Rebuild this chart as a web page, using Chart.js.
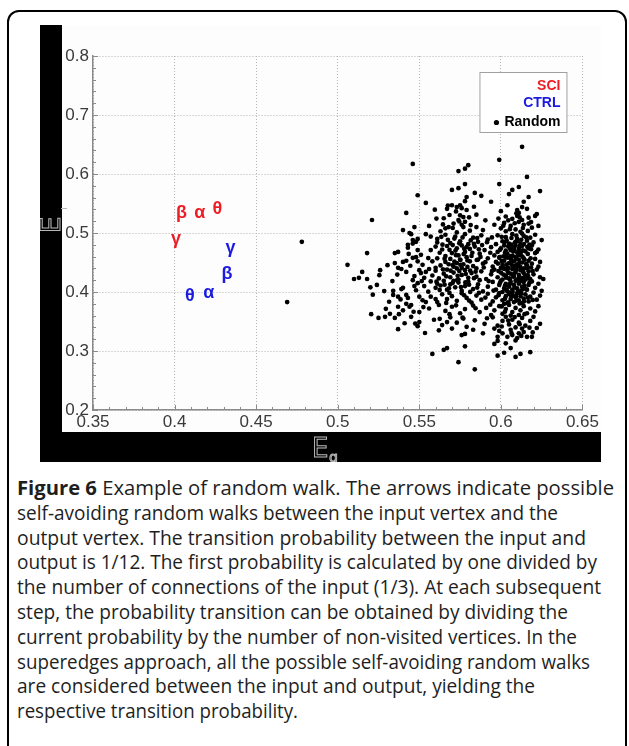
<!DOCTYPE html>
<html><head><meta charset="utf-8">
<script src="https://cdn.jsdelivr.net/npm/chart.js@4.4.1/dist/chart.umd.min.js"></script>
<style>
html,body{margin:0;padding:0;background:#fff;width:629px;height:746px;overflow:hidden;}
#frame{position:absolute;left:7px;top:10px;width:620px;height:760px;border:2px solid #000;border-radius:12px;box-sizing:border-box;}
#wrap{position:absolute;left:40px;top:25px;width:561px;height:437px;}
#cap{position:absolute;left:17px;top:476px;width:610px;font-family:"Open Sans",sans-serif;font-size:19.5px;line-height:24.8px;color:#1e1e1e;white-space:nowrap;}
#cap div{height:24.8px;}
#cap span{display:inline-block;transform-origin:0 50%;}
#cap b{font-weight:700;}
</style></head><body>
<div id="frame"></div>
<div id="wrap"><canvas id="c" width="561" height="437"></canvas></div>
<div id="cap">
<div><span data-w="597"><b>Figure 6</b> Example of random walk. The arrows indicate possible</span></div>
<div><span data-w="541">self-avoiding random walks between the input vertex and the</span></div>
<div><span data-w="569">output vertex. The transition probability between the input and</span></div>
<div><span data-w="580">output is 1/12. The first probability is calculated by one divided by</span></div>
<div><span data-w="584">the number of connections of the input (1/3). At each subsequent</span></div>
<div><span data-w="551">step, the probability transition can be obtained by dividing the</span></div>
<div><span data-w="560">current probability by the number of non-visited vertices. In the</span></div>
<div><span data-w="573">superedges approach, all the possible self-avoiding random walks</span></div>
<div><span data-w="518">are considered between the input and output, yielding the</span></div>
<div><span data-w="281">respective transition probability.</span></div>
</div>
<script>
const xTickLabels = ['0.35','0.4','0.45','0.5','0.55','0.6','0.65'];
const yTickLabels = ['0.2','0.3','0.4','0.5','0.6','0.7','0.8'];
const seriesNames = ['SCI','CTRL','Random'];
const greekLetters = ['β','α','θ','γ'];
const sciX = [0.4043,0.4155,0.4263,0.4008];
const sciY = [0.5334,0.5339,0.5402,0.4893];
const ctrlX = [0.4322,0.4210,0.4094,0.4343];
const ctrlY = [0.4300,0.3978,0.3937,0.4741];
const randomPoints = [
[0.613,0.646],[0.599,0.624],[0.546,0.617],[0.580,0.615],
[0.578,0.609],[0.574,0.605],
[0.616,0.595],[0.599,0.583],[0.578,0.583],[0.611,0.578],[0.574,0.576],
[0.570,0.573],[0.607,0.573],[0.624,0.571],[0.605,0.566],[0.584,0.568],[0.588,0.563],[0.579,0.561],[0.617,0.561],[0.549,0.564],
[0.578,0.554],[0.575,0.547],[0.614,0.553],[0.613,0.544],[0.570,0.547],[0.594,0.553],[0.604,0.547],[0.573,0.544],[0.576,0.542],[0.554,0.551],[0.567,0.541],[0.616,0.541],
[0.600,0.537],[0.579,0.539],[0.610,0.539],[0.611,0.534],[0.542,0.534],[0.610,0.529],[0.607,0.524],[0.613,0.522],[0.621,0.529],[0.622,0.532],[0.575,0.530],[0.577,0.527],[0.574,0.522],[0.521,0.522],[0.603,0.528],[0.617,0.526],[0.565,0.525],[0.585,0.531],
[0.611,0.519],[0.578,0.519],[0.576,0.514],[0.577,0.510],[0.566,0.508],[0.568,0.510],[0.585,0.510],[0.596,0.514],[0.540,0.505],[0.547,0.510],[0.544,0.500],[0.602,0.517],[0.606,0.512],[0.609,0.506],[0.614,0.514],[0.619,0.509],[0.603,0.503],[0.612,0.502],[0.617,0.516],[0.600,0.508],[0.571,0.516],[0.581,0.504],[0.573,0.501],[0.589,0.505],[0.563,0.503],[0.623,0.512],[0.556,0.512],
[0.545,0.498],[0.554,0.498],[0.561,0.490],[0.549,0.490],[0.546,0.488],[0.548,0.485],[0.543,0.480],[0.546,0.482],[0.566,0.497],[0.572,0.494],[0.578,0.498],[0.583,0.492],[0.588,0.496],[0.575,0.486],[0.569,0.483],[0.580,0.481],[0.586,0.485],[0.592,0.489],[0.598,0.496],[0.603,0.493],[0.607,0.498],[0.610,0.490],[0.614,0.495],[0.618,0.492],[0.621,0.497],[0.601,0.486],[0.605,0.482],[0.609,0.485],[0.612,0.481],[0.616,0.487],[0.620,0.484],[0.597,0.481],[0.561,0.484],[0.557,0.494],[0.625,0.488],[0.613,0.499],[0.478,0.485],
[0.518,0.466],[0.535,0.466],[0.537,0.468],[0.543,0.475],[0.549,0.471],[0.551,0.463],[0.557,0.471],[0.560,0.477],[0.564,0.472],[0.567,0.478],[0.570,0.466],[0.573,0.474],[0.576,0.479],[0.578,0.468],[0.581,0.473],[0.584,0.477],[0.587,0.465],[0.590,0.471],[0.594,0.476],[0.598,0.468],[0.600,0.474],[0.602,0.479],[0.604,0.465],[0.606,0.471],[0.608,0.476],[0.610,0.467],[0.611,0.473],[0.613,0.478],[0.615,0.469],[0.617,0.474],[0.619,0.479],[0.621,0.466],[0.623,0.472],[0.606,0.461],[0.612,0.463],[0.574,0.462],[0.566,0.461],[0.582,0.461],[0.596,0.462],[0.603,0.470],[0.609,0.479],[0.579,0.476],[0.622,0.468],
[0.506,0.446],[0.535,0.449],[0.540,0.451],[0.542,0.453],[0.546,0.458],[0.548,0.459],[0.558,0.452],[0.561,0.457],[0.563,0.445],[0.566,0.451],[0.569,0.456],[0.571,0.443],[0.573,0.449],[0.575,0.455],[0.577,0.447],[0.579,0.459],[0.581,0.452],[0.583,0.444],[0.586,0.455],[0.589,0.448],[0.592,0.457],[0.595,0.443],[0.597,0.451],[0.599,0.458],[0.601,0.446],[0.602,0.453],[0.604,0.441],[0.605,0.449],[0.606,0.457],[0.607,0.444],[0.608,0.452],[0.609,0.459],[0.610,0.447],[0.611,0.455],[0.612,0.442],[0.613,0.450],[0.614,0.457],[0.616,0.445],[0.617,0.453],[0.619,0.448],[0.621,0.456],[0.623,0.443],[0.600,0.441],[0.603,0.459],[0.576,0.441],[0.568,0.447],[0.585,0.440],[0.560,0.441],[0.552,0.446],[0.549,0.452],[0.624,0.451],
[0.515,0.434],[0.526,0.437],[0.537,0.441],[0.539,0.439],[0.542,0.434],[0.550,0.437],[0.551,0.432],[0.554,0.434],[0.556,0.439],[0.547,0.427],[0.558,0.428],[0.560,0.436],[0.562,0.423],[0.565,0.431],[0.567,0.438],[0.569,0.425],[0.571,0.433],[0.574,0.421],[0.576,0.429],[0.578,0.437],[0.580,0.424],[0.582,0.432],[0.585,0.426],[0.588,0.435],[0.591,0.422],[0.594,0.430],[0.596,0.438],[0.598,0.425],[0.600,0.433],[0.601,0.421],[0.603,0.428],[0.604,0.436],[0.605,0.423],[0.606,0.431],[0.607,0.439],[0.608,0.426],[0.609,0.434],[0.610,0.421],[0.611,0.429],[0.612,0.437],[0.613,0.424],[0.614,0.432],[0.615,0.427],[0.617,0.435],[0.618,0.422],[0.620,0.430],[0.622,0.438],[0.624,0.425],[0.602,0.439],[0.609,0.440],[0.616,0.440],[0.573,0.440],[0.587,0.420],[0.626,0.422],
[0.510,0.422],[0.513,0.424],[0.518,0.422],[0.524,0.412],[0.520,0.408],[0.539,0.405],[0.540,0.407],[0.548,0.403],[0.547,0.410],[0.549,0.415],[0.546,0.420],[0.553,0.410],[0.553,0.424],[0.560,0.407],[0.561,0.414],[0.534,0.402],[0.557,0.418],[0.563,0.411],[0.565,0.419],[0.567,0.404],[0.569,0.413],[0.572,0.408],[0.574,0.416],[0.576,0.402],[0.578,0.410],[0.580,0.418],[0.583,0.405],[0.586,0.413],[0.589,0.401],[0.592,0.409],[0.595,0.417],[0.597,0.404],[0.599,0.412],[0.600,0.419],[0.602,0.406],[0.603,0.414],[0.604,0.401],[0.605,0.409],[0.606,0.417],[0.607,0.404],[0.608,0.412],[0.609,0.419],[0.610,0.406],[0.611,0.414],[0.612,0.401],[0.613,0.409],[0.614,0.417],[0.616,0.404],[0.617,0.412],[0.619,0.418],[0.621,0.407],[0.623,0.414],[0.625,0.402],[0.601,0.400],[0.571,0.419],
[0.534,0.395],[0.537,0.392],[0.543,0.390],[0.542,0.395],[0.550,0.392],[0.552,0.386],[0.554,0.383],[0.557,0.392],[0.561,0.383],[0.542,0.380],[0.545,0.378],[0.469,0.383],[0.564,0.396],[0.567,0.388],[0.570,0.393],[0.573,0.385],[0.576,0.398],[0.579,0.390],[0.582,0.382],[0.585,0.394],[0.588,0.387],[0.592,0.397],[0.595,0.384],[0.597,0.391],[0.599,0.398],[0.601,0.386],[0.603,0.393],[0.604,0.381],[0.605,0.399],[0.606,0.388],[0.607,0.395],[0.608,0.383],[0.609,0.391],[0.610,0.398],[0.611,0.386],[0.612,0.393],[0.613,0.381],[0.614,0.389],[0.615,0.396],[0.617,0.384],[0.618,0.392],[0.620,0.399],[0.622,0.387],[0.624,0.394],[0.602,0.380],[0.560,0.388],
[0.544,0.375],[0.537,0.375],[0.540,0.369],[0.550,0.366],[0.532,0.363],[0.529,0.358],[0.525,0.356],[0.535,0.356],[0.545,0.358],[0.556,0.372],[0.562,0.378],[0.566,0.368],[0.570,0.375],[0.575,0.364],[0.578,0.371],[0.583,0.377],[0.587,0.366],[0.591,0.373],[0.596,0.369],[0.599,0.376],[0.601,0.363],[0.603,0.371],[0.605,0.378],[0.607,0.366],[0.609,0.373],[0.611,0.361],[0.612,0.369],[0.614,0.376],[0.616,0.364],[0.618,0.372],[0.621,0.367],[0.623,0.376],[0.606,0.360],[0.594,0.361],
[0.541,0.347],[0.550,0.349],[0.549,0.342],[0.559,0.353],[0.564,0.344],[0.569,0.357],[0.573,0.348],[0.579,0.341],[0.584,0.352],[0.590,0.346],[0.595,0.357],[0.598,0.343],[0.601,0.351],[0.603,0.358],[0.605,0.345],[0.607,0.353],[0.609,0.340],[0.611,0.348],[0.613,0.356],[0.615,0.343],[0.618,0.351],[0.620,0.358],[0.624,0.346],[0.577,0.355],[0.567,0.349],
[0.537,0.337],[0.589,0.330],[0.576,0.327],[0.578,0.329],[0.599,0.334],[0.604,0.324],[0.607,0.327],[0.610,0.322],[0.611,0.330],[0.614,0.332],[0.616,0.324],[0.619,0.324],[0.622,0.339],[0.598,0.324],[0.562,0.335],[0.570,0.338],[0.583,0.336],[0.596,0.338],[0.606,0.336],[0.613,0.338],[0.601,0.330],
[0.598,0.317],[0.596,0.312],[0.578,0.308],[0.567,0.305],[0.565,0.302],[0.606,0.305],[0.603,0.313],[0.609,0.318],
[0.602,0.297],[0.609,0.290],[0.618,0.298],[0.574,0.281],[0.584,0.269],[0.558,0.295],[0.598,0.292],[0.612,0.295],
[0.6005,0.4935],[0.6035,0.4875],[0.6065,0.4915],[0.6095,0.4955],[0.6125,0.4885],[0.6155,0.4925],[0.6085,0.4835],[0.6045,0.4775],[0.6115,0.4765],[0.6175,0.4805],
[0.5995,0.4715],[0.6025,0.4665],[0.6055,0.4745],[0.6075,0.4685],[0.6105,0.4625],[0.6135,0.4705],[0.6165,0.4645],[0.6185,0.4725],[0.6015,0.4605],[0.6095,0.4555],
[0.6005,0.4525],[0.6035,0.4465],[0.6065,0.4535],[0.6085,0.4445],[0.6115,0.4495],[0.6145,0.4545],[0.6155,0.4475],[0.6185,0.4415],[0.6045,0.4405],[0.6125,0.4385],
[0.5985,0.4355],[0.6015,0.4295],[0.6045,0.4325],[0.6075,0.4265],[0.6095,0.4375],[0.6135,0.4345],[0.6165,0.4285],[0.6195,0.4355],[0.6055,0.4215],[0.6125,0.4195],
[0.5995,0.4155],[0.6025,0.4105],[0.6055,0.4135],[0.6085,0.4075],[0.6115,0.4175],[0.6145,0.4105],[0.6175,0.4155],[0.6035,0.4035],[0.6105,0.4015],[0.6155,0.4045],
[0.5985,0.3945],[0.6025,0.3885],[0.6065,0.3925],[0.6095,0.3855],[0.6125,0.3975],[0.6165,0.3905],[0.6045,0.3825],[0.6115,0.3805],[0.6195,0.3865],[0.6005,0.3755],
[0.6015,0.5125],[0.6055,0.5065],[0.6085,0.5165],[0.6135,0.5085],[0.6165,0.5035],[0.6045,0.5215],[0.6115,0.5265],[0.6185,0.5185],[0.5985,0.5245],[0.6095,0.5335],
[0.6025,0.3665],[0.6085,0.3575],[0.6145,0.3625],[0.6045,0.3515],[0.6115,0.3455],[0.6175,0.3395],[0.6005,0.3415],[0.6065,0.3305],[0.6125,0.3255],[0.6195,0.3315],
[0.5635,0.4935],[0.5675,0.4885],[0.5715,0.4905],[0.5765,0.4925],[0.5815,0.4875],[0.5855,0.4915],[0.5705,0.4795],[0.5745,0.4825],[0.5835,0.4815],[0.5885,0.4795],
[0.5625,0.4665],[0.5685,0.4715],[0.5725,0.4625],[0.5775,0.4735],[0.5825,0.4665],[0.5865,0.4725],[0.5655,0.4565],[0.5715,0.4515],[0.5795,0.4535],[0.5875,0.4595],
[0.5645,0.4385],[0.5705,0.4455],[0.5745,0.4355],[0.5795,0.4425],[0.5845,0.4345],[0.5895,0.4415],[0.5665,0.4265],[0.5735,0.4275],[0.5785,0.4305],[0.5835,0.4235],
[0.5605,0.4175],[0.5655,0.4125],[0.5705,0.4155],[0.5755,0.4085],[0.5805,0.4125],[0.5855,0.4075],[0.5625,0.4035],[0.5685,0.3985],[0.5775,0.3945],[0.5865,0.3985],
[0.5665,0.3815],[0.5725,0.3775],[0.5805,0.3855],[0.5845,0.3725],[0.5685,0.3625],[0.5765,0.3565],[0.5625,0.3545],
[0.5645,0.5145],[0.5705,0.5085],[0.5745,0.5195],[0.5815,0.5135],[0.5605,0.5245],[0.5685,0.5305],[0.5725,0.5365],[0.5805,0.5265],[0.5905,0.5215],[0.5675,0.5465],[0.5595,0.5395],[0.5835,0.5445],
[0.5305,0.4455],[0.5255,0.4285],[0.5285,0.4015],[0.5335,0.4185],[0.5365,0.4295],[0.5215,0.3955],[0.5315,0.3835],[0.5375,0.3625],[0.5465,0.3665],[0.5525,0.3745],[0.5555,0.4005],[0.5515,0.4185],[0.5445,0.4445],[0.5555,0.4575],[0.5435,0.4645],[0.5295,0.3715],[0.5205,0.3625],[0.5475,0.3465],[0.5535,0.3305],[0.5385,0.3875],
[0.5915,0.4845],[0.5935,0.4665],[0.5905,0.4505],[0.5945,0.4355],[0.5925,0.4185],[0.5955,0.4025],[0.5905,0.3905],[0.5935,0.3785],[0.5915,0.3555],[0.5945,0.4925],
[0.6022,0.4842],[0.6062,0.4802],[0.6102,0.4862],[0.6142,0.4812],[0.6082,0.4722],[0.6122,0.4672],[0.6042,0.4582],[0.6072,0.4612],[0.6132,0.4602],[0.6012,0.4422],[0.6062,0.4482],[0.6102,0.4432],[0.6142,0.4402],[0.6032,0.4242],[0.6082,0.4312],[0.6112,0.4252],[0.6152,0.4212],[0.6022,0.4062],[0.6072,0.4002],[0.6132,0.4042],[0.6092,0.3932],[0.6142,0.3842],[0.6052,0.3962],[0.6172,0.4232],[0.6182,0.4572],[0.6162,0.4762],[0.5992,0.4592],[0.5982,0.4482],
[0.5722,0.4702],[0.5772,0.4642],[0.5752,0.4542],[0.5692,0.4362],[0.5752,0.4462],[0.5812,0.4362],[0.5732,0.4202],[0.5782,0.4162],[0.5682,0.4062],[0.5812,0.4002],[0.5642,0.4802],[0.5852,0.4542]
];

const sciData = sciX.map((x,i)=>({x, y: sciY[i], t: greekLetters[i]}));
const ctrlData = ctrlX.map((x,i)=>({x, y: ctrlY[i], t: greekLetters[i]}));
const randData = randomPoints.map(p=>({x:p[0], y:p[1]}));
const colors = ['#ee1c24','#1a1ae0','#000000'];

// fit caption lines to the widths seen in the figure
document.querySelectorAll('#cap span').forEach(s=>{
  const w = s.getBoundingClientRect().width, t = parseFloat(s.dataset.w);
  s.style.transform = 'scaleX(' + (t/w) + ')';
});

const bgPlugin = {
  id:'bg',
  beforeDraw(chart){
    const ctx = chart.ctx, w = chart.width, h = chart.height;
    ctx.save();
    ctx.fillStyle = '#fdfdfd'; ctx.fillRect(0,0,w,h);
    ctx.fillStyle = '#000'; ctx.fillRect(0,0,22,h); ctx.fillRect(0,h-30,w,30);
    ctx.restore();
  },
  afterDraw(chart){
    const ctx = chart.ctx, xs = chart.scales.x, ys = chart.scales.y, a = chart.chartArea;
    ctx.save();
    ctx.strokeStyle = '#8a8a8a'; ctx.lineWidth = 1;
    for (let i=0;i<=30;i++){
      const v = 0.35 + i*0.01, px = Math.round(xs.getPixelForValue(v))+0.5;
      const L = (i%5===0)?5:3;
      ctx.beginPath(); ctx.moveTo(px,a.bottom); ctx.lineTo(px,a.bottom-L); ctx.stroke();
    }
    for (let i=0;i<=30;i++){
      const v = 0.2 + i*0.02, py = Math.round(ys.getPixelForValue(v))+0.5;
      const L = (i%5===0)?5:3;
      ctx.beginPath(); ctx.moveTo(a.left,py); ctx.lineTo(a.left+L,py); ctx.stroke();
    }
    ctx.font = 'bold 18px "Liberation Sans", Arial, sans-serif';
    ctx.textAlign = 'center'; ctx.textBaseline = 'middle';
    [0,1].forEach(di=>{
      const meta = chart.getDatasetMeta(di);
      ctx.fillStyle = colors[di];
      meta.data.forEach((el,i)=>{ ctx.fillText(chart.data.datasets[di].data[i].t, el.x, el.y); });
    });
    const bx = a.right-103, by = a.top+16, bw = 87, bh = 60;
    ctx.fillStyle = '#fff'; ctx.fillRect(bx,by,bw,bh);
    ctx.strokeStyle = '#a0a0a0'; ctx.lineWidth = 1; ctx.strokeRect(bx+0.5,by+0.5,bw,bh);
    ctx.font = 'bold 14px "Liberation Sans", Arial, sans-serif';
    ctx.textAlign = 'right'; ctx.textBaseline = 'middle';
    const tx = bx+bw-6;
    chart.data.datasets.forEach((ds,i)=>{
      const ty = by + 14 + i*17.5 + (i===2?1.5:0);
      ctx.fillStyle = i===2 ? '#000' : colors[i];
      ctx.fillText(ds.label, tx, ty);
      if (i===2){
        const tw = ctx.measureText(ds.label).width;
        ctx.beginPath(); ctx.arc(tx-tw-8, ty, 2.6, 0, Math.PI*2); ctx.fill();
      }
    });
    ctx.strokeStyle = '#b8b8b8'; ctx.lineWidth = 1;
    ctx.textAlign = 'left'; ctx.textBaseline = 'alphabetic';
    ctx.font = '26px "DejaVu Sans", sans-serif';
    ctx.strokeText('E', 272, 432);
    ctx.font = '14px "DejaVu Sans", sans-serif';
    ctx.strokeText('g', 289, 437);
    ctx.save();
    ctx.translate(20, 200); ctx.rotate(-Math.PI/2);
    ctx.font = '26px "DejaVu Sans", sans-serif';
    ctx.strokeText('E', -8, 0);
    ctx.restore();
    ctx.beginPath(); ctx.moveTo(21,183.5); ctx.lineTo(27,183.5); ctx.stroke();
    ctx.restore();
  }
};

new Chart(document.getElementById('c'), {
  type:'scatter',
  data:{datasets:[
    {label:seriesNames[0], data:sciData, pointRadius:0, backgroundColor:colors[0], borderColor:colors[0]},
    {label:seriesNames[1], data:ctrlData, pointRadius:0, backgroundColor:colors[1], borderColor:colors[1]},
    {label:seriesNames[2], data:randData, pointRadius:2.35, borderWidth:0, backgroundColor:'#000', borderColor:'#000'}
  ]},
  options:{
    responsive:false, animation:false, devicePixelRatio:1,
    layout:{padding:{top:31,right:18,left:0,bottom:0}},
    plugins:{legend:{display:false}, tooltip:{enabled:false}},
    scales:{
      x:{type:'linear', min:0.35, max:0.65,
        afterFit(s){ s.height = 52; },
        afterBuildTicks(s){ s.ticks = xTickLabels.map(t=>({value:parseFloat(t)})); },
        ticks:{padding:2, color:'#3a3a3a', font:{family:'"Liberation Sans", Arial, sans-serif', size:17}, maxRotation:0, autoSkip:false,
          callback(v){ const i = xTickLabels.findIndex(t=>Math.abs(parseFloat(t)-v)<1e-6); return i>=0?xTickLabels[i]:''; }},
        grid:{color:'#b5b5b5', lineWidth:1, drawTicks:false},
        border:{display:true, color:'#8a8a8a', width:1.5, dash:[1,2]}
      },
      y:{type:'linear', min:0.2, max:0.8,
        afterFit(s){ s.width = 53; },
        afterBuildTicks(s){ s.ticks = yTickLabels.map(t=>({value:parseFloat(t)})); },
        ticks:{padding:4, color:'#3a3a3a', font:{family:'"Liberation Sans", Arial, sans-serif', size:17}, autoSkip:false,
          callback(v){ const i = yTickLabels.findIndex(t=>Math.abs(parseFloat(t)-v)<1e-6); return i>=0?yTickLabels[i]:''; }},
        grid:{color:'#b5b5b5', lineWidth:1, drawTicks:false},
        border:{display:true, color:'#8a8a8a', width:1.5, dash:[1,2]}
      }
    }
  },
  plugins:[bgPlugin]
});
</script>
</body></html>
